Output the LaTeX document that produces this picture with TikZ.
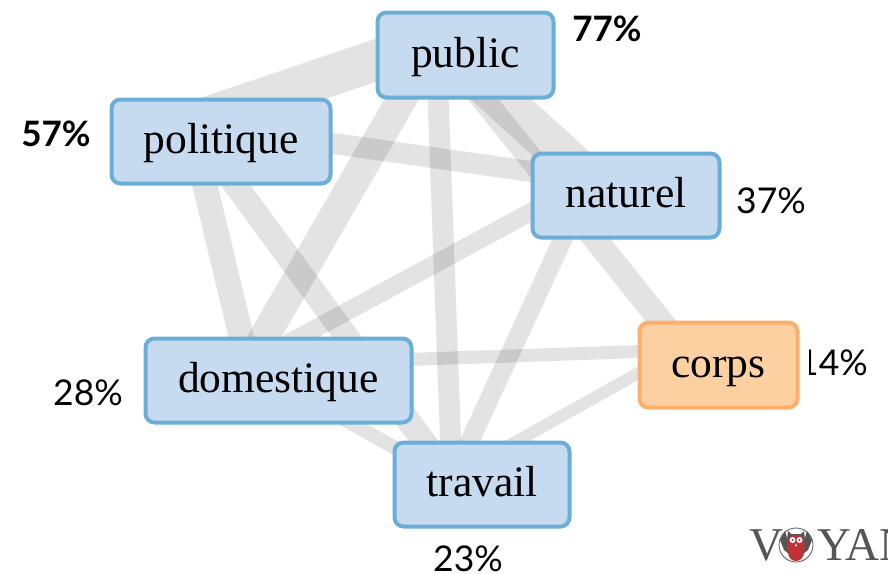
\documentclass[tikz,border=0pt]{standalone}
\usepackage{fontspec}
\setmainfont{Liberation Serif}
\newfontfamily\pctfont{Lato}
\usetikzlibrary{backgrounds}
\definecolor{boxblue}{HTML}{C6DAF0}
\definecolor{edgeblue}{HTML}{6BAED6}
\definecolor{boxorange}{HTML}{FDD0A2}
\definecolor{edgeorange}{HTML}{FDAE6B}
\definecolor{logogrey}{HTML}{555555}
\definecolor{owlred}{HTML}{BE3238}
\tikzset{
  term/.style={draw=edgeblue,fill=boxblue,line width=4pt,rounded corners=9pt,
    font=\fontsize{43.5}{44}\selectfont,text height=24pt,text depth=0pt,inner sep=0pt,align=center},
  termhot/.style={term,draw=edgeorange,fill=boxorange},
  link/.style={black,opacity=.11,line cap=butt},
  pct/.style={font=\pctfont\fontsize{35.5}{36}\selectfont,inner sep=0pt,text=black},
  pctbold/.style={font=\pctfont\bfseries\fontsize{35}{36}\selectfont,inner sep=0pt,text=black},
  logo/.style={font=\fontsize{47}{47}\selectfont,text=logogrey,inner sep=0pt,anchor=base west}
}
\begin{document}
\begin{tikzpicture}[x=1pt,y=-1pt]
\useasboundingbox (0,0) rectangle (888,573);
\node[term,minimum width=176pt,minimum height=85pt] (public) at (465.5,55) {public};
\node[term,minimum width=219pt,minimum height=84pt] (politique) at (221,141.5) {politique};
\node[term,minimum width=187pt,minimum height=84pt] (naturel) at (626,195.5) {naturel};
\node[term,minimum width=266pt,minimum height=84pt] (domestique) at (278.5,380.5) {domestique};
\node[term,minimum width=175pt,minimum height=84pt] (travail) at (482,484.5) {travail};
\node[termhot,minimum width=158pt,minimum height=85pt] (corps) at (718.5,365) {corps};
\begin{scope}[on background layer]
\path ([shift={(-29.5,-15)}]public.center) coordinate (aP)
      ([shift={(-31,-18.5)}]politique.center) coordinate (aL)
      ([shift={(-36,-15.5)}]naturel.center) coordinate (aN)
      ([shift={(-30.5,-15.5)}]domestique.center) coordinate (aD)
      ([shift={(-30,-4.5)}]travail.center) coordinate (aT)
      ([shift={(-34.5,-15)}]corps.center) coordinate (aC);
\draw[link,line width=41pt] (aP) -- (aL);
\draw[link,line width=41pt] (aP) -- (aN);
\draw[link,line width=30pt] (aP) -- (aD);
\draw[link,line width=21pt] (aP) -- (aT);
\draw[link,line width=24pt] (aP) -- (aC);
\draw[link,line width=21pt] (aL) -- (aN);
\draw[link,line width=25pt] (aL) -- (aD);
\draw[link,line width=24pt] (aL) -- (aT);
\draw[link,line width=18pt] (aN) -- (aD);
\draw[link,line width=19pt] (aN) -- (aT);
\draw[link,line width=13pt] (aD) -- (aC);
\draw[link,line width=14pt] (aD) -- (aT);
\draw[link,line width=12pt] ([yshift=2.5pt]aT) -- ([yshift=2.5pt]aC);
\end{scope}
\node[pctbold] (p77) at (607,29) {77\%};
\node[pctbold] (p57) at (56,134) {57\%};
\node[pct] (p37) at (771,201) {37\%};
\node[pct] (p28) at (88,393) {28\%};
\node[pct] (p23) at (468,558.5) {23\%};
\begin{scope}
\clip (809.5,340) rectangle (888,385);
\node[pct,anchor=east] (p14) at (868,363) {14\%};
\end{scope}
\begin{scope}
\clip (740,520) rectangle (888,573);
\node[logo] (logoV) at (749,560) {V};
\node[logo] (logoY) at (817,560) {YAN};
\draw[logogrey,line width=.8pt] (796,545) circle (17);
\fill[logogrey] (785,531) -- (788,541) -- (789,554) -- (784,550) -- (780,540) -- cycle;
\fill[logogrey] (807,531) -- (804,541) -- (803,554) -- (808,550) -- (812,540) -- cycle;
\fill[logogrey] (788,531) -- (791,534) -- (801,534) -- (804,531) -- (805,540) -- (787,540) -- cycle;
\fill[owlred] (796,561) .. controls (786,561) and (787,546) .. (788,540)
  .. controls (789,533) and (803,533) .. (804,540)
  .. controls (805,546) and (806,561) .. (796,561) -- cycle;
\fill[white] (792.5,540) circle (3) (799.5,540) circle (3);
\fill[logogrey] (792.5,540) circle (1.2) (799.5,540) circle (1.2);
\fill[white] (796,543) -- (797,546) -- (795,546) -- cycle;
\end{scope}
\end{tikzpicture}
\end{document}
